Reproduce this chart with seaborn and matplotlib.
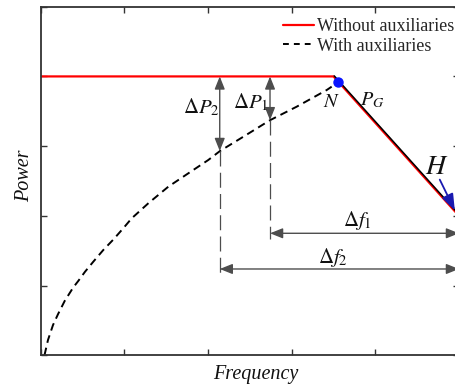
import numpy as np
import pandas as pd
import matplotlib
matplotlib.use("Agg")
import matplotlib.pyplot as plt
import matplotlib.transforms as mtransforms
import seaborn as sns

# ---- data ----
red_x = [0.0, 3.5, 5.0]
red_y = [4.0, 4.0, 2.0]

aux_curve_x = [0.045, 0.087, 0.147, 0.207, 0.287, 0.390, 0.449, 0.530, 0.629, 0.748,
               0.868, 0.987, 1.088, 1.286, 1.525, 1.764, 2.003, 2.143, 2.422, 2.741,
               3.060, 3.419, 3.478]
aux_curve_y = [0.0, 0.219, 0.434, 0.590, 0.780, 0.975, 1.066, 1.199, 1.343, 1.510,
               1.660, 1.822, 1.965, 2.180, 2.418, 2.610, 2.801, 2.930, 3.135, 3.372,
               3.566, 3.805, 3.853]
aux_line_x = [3.5, 5.0]
aux_line_y = [4.0, 2.0]

point_N = (3.557, 3.92)
point_H = (5.0, 2.0)

dP2_x, dP2_bottom = 2.140, 2.93
dP1_x, dP1_bottom = 2.741, 3.372
df1_y = 1.75
df2_y = 1.238

sns.set_theme(style="white")
plt.rcParams['font.family'] = ['Liberation Serif', 'DejaVu Serif']
plt.rcParams['mathtext.fontset'] = 'stix'

fig = plt.figure(figsize=(4.55, 3.85), dpi=100)
ax = fig.add_axes([40.7 / 455, (385 - 355.3) / 385, 418.3 / 455, 348.6 / 385])

df_red = pd.DataFrame({"f": red_x, "p": red_y})
df_curve = pd.DataFrame({"f": aux_curve_x, "p": aux_curve_y})

sns.lineplot(data=df_red, x="f", y="p", ax=ax, color="#ff0000", lw=1.6,
             sort=False, label="Without auxiliaries", estimator=None)
sns.lineplot(data=df_curve, x="f", y="p", ax=ax, color="black", lw=1.4,
             sort=False, estimator=None, label="With auxiliaries",
             dashes=False)
ax.lines[-1].set_dashes((4, 2.6))
off = mtransforms.offset_copy(ax.transData, fig=fig, x=0.5, y=0.4, units='points')
ax.plot(aux_line_x, aux_line_y, color="black", lw=1.1, transform=off)

# gray vertical arrows
gray = "#4d4d4d"
astyle = dict(arrowstyle="<|-|>,head_length=0.55,head_width=0.22", color=gray,
              lw=1.0, mutation_scale=14, shrinkA=0, shrinkB=0)
ax.annotate("", xy=(dP2_x, 4.0), xytext=(dP2_x, dP2_bottom), arrowprops=astyle)
ax.annotate("", xy=(dP1_x, 4.0), xytext=(dP1_x, dP1_bottom), arrowprops=astyle)
# gray dashed drops
ax.plot([dP2_x, dP2_x], [dP2_bottom, df2_y - 0.08], color=gray, lw=0.9, dashes=(12, 5))
ax.plot([dP1_x, dP1_x], [dP1_bottom, df1_y - 0.08], color=gray, lw=0.9, dashes=(12, 5))
# horizontal arrows
ax.annotate("", xy=(dP1_x, df1_y), xytext=(point_H[0], df1_y), arrowprops=astyle)
ax.annotate("", xy=(dP2_x, df2_y), xytext=(point_H[0], df2_y), arrowprops=astyle)

# blue point N and arrow to H
ax.plot([point_N[0]], [point_N[1]], 'o', color="#0a14ff", ms=6.5, zorder=6)
ax.annotate("", xy=(4.95, 2.08), xytext=(4.77, 2.52),
            arrowprops=dict(arrowstyle="-|>,head_length=0.75,head_width=0.28",
                            color="#1a1ab0", lw=1.3, mutation_scale=13,
                            shrinkA=0, shrinkB=0))

# text labels
ax.text(1.916, 3.55, r"$\Delta P_2$", fontsize=15, ha="center", va="center", color="#111")
ax.text(2.513, 3.62, r"$\Delta P_1$", fontsize=15, ha="center", va="center", color="#111")
ax.text(3.482, 3.63, r"$N$", fontsize=14.5, ha="center", va="center", color="#111")
ax.text(3.96, 3.65, r"$P_G$", fontsize=14.5, ha="center", va="center", color="#111")
ax.text(4.737, 2.70, r"$H$", fontsize=20, ha="center", va="center", color="#111")
ax.text(3.781, 1.94, r"$\Delta f_1$", fontsize=15, ha="center", va="center", color="#111")
ax.text(3.494, 1.40, r"$\Delta f_2$", fontsize=15, ha="center", va="center", color="#111")

ax.set_xlim(0, 5)
ax.set_ylim(0, 5)
ax.set_xticks(np.arange(0, 6, 1))
ax.set_yticks(np.arange(0, 6, 1))
ax.tick_params(direction="in", length=4, width=1, color="#333333",
               top=True, right=True, left=True, bottom=True,
               labelbottom=False, labelleft=False)
for s in ax.spines.values():
    s.set_color("#333333")
    s.set_linewidth(1.3)
ax.set_xlabel("")
ax.set_ylabel("")

fig.text(256 / 455, 1 - 374 / 385, "Frequency", fontsize=14.5, style="italic",
         ha="center", va="center", color="#111")
fig.text(24.5 / 455, 1 - 176 / 385, "Power", fontsize=14.5, style="italic",
         rotation=90, ha="center", va="center", color="#111")

leg = ax.legend(loc="upper left", bbox_to_anchor=(283 / 455, 1 - 18 / 385),
                bbox_transform=fig.transFigure, frameon=False, fontsize=13,
                handlelength=1.7, handletextpad=0.2, labelspacing=0.15,
                borderpad=0, borderaxespad=0)
leg.get_lines()[1].set_dashes((3, 2.6))

fig.savefig("out.png", dpi=100)
